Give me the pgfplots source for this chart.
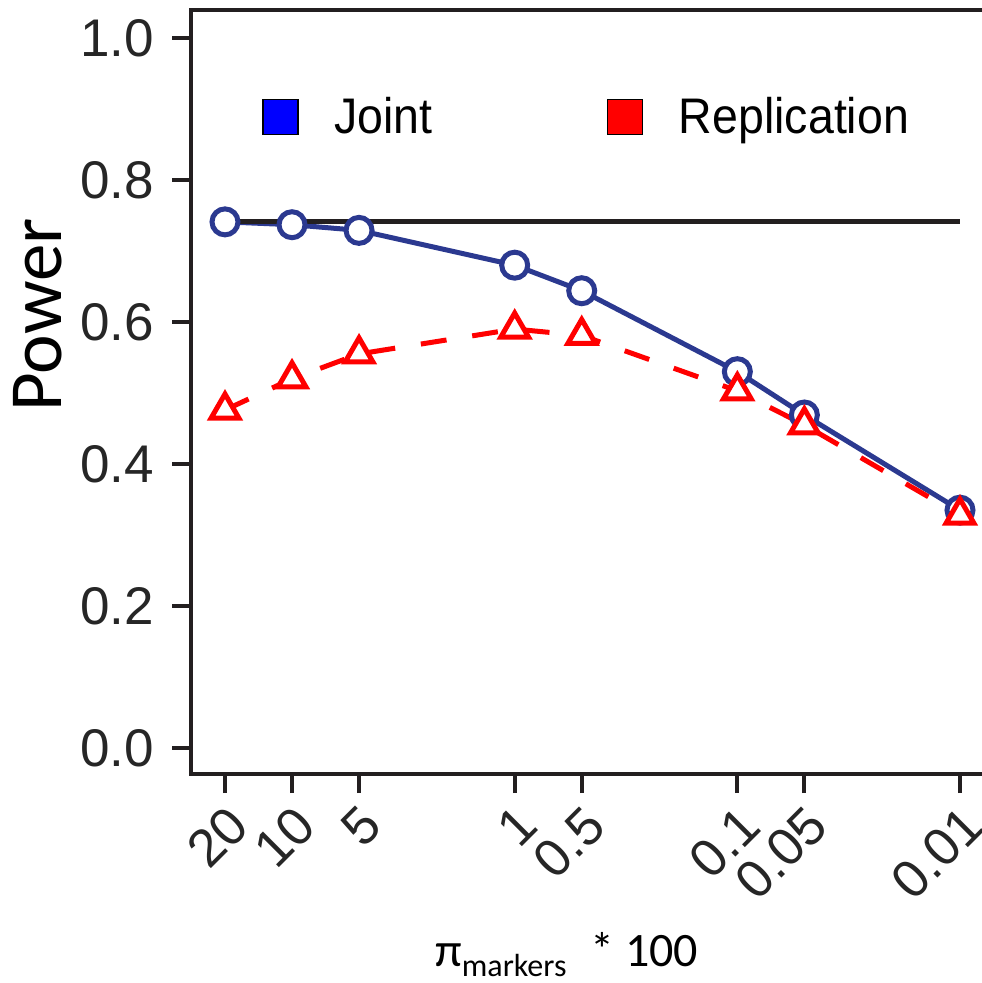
\documentclass[border=0pt]{standalone}
\usepackage{pgfplots}
\pgfplotsset{compat=1.18}
\usepackage{fontspec}
\setmainfont{Liberation Sans}
\newfontfamily\carlito{Carlito}
\newfontfamily\legfont{Liberation Sans}[FakeStretch=0.93]
\definecolor{jointblue}{RGB}{43,57,144}
\definecolor{axisgray}{RGB}{35,31,32}
\begin{document}
\begin{tikzpicture}
\begin{axis}[
  scale only axis, width=401.5pt, height=382pt,
  xmode=log, x dir=reverse, xmin=0.007036, xmax=28.43,
  ymin=-0.0366, ymax=1.0394,
  axis line style={line width=2pt, color=axisgray},
  xtick={20,10,5,1,0.5,0.1,0.05,0.01},
  xticklabels={20,10,5,1,0.5,0.1,0.05,0.01},
  minor xtick={},
  ytick={0,0.2,0.4,0.6,0.8,1.0},
  yticklabels={0.0,0.2,0.4,0.6,0.8,1.0},
  xtick pos=left, ytick pos=left,
  tick align=outside, major tick length=9.5pt,
  tick style={line width=2pt, color=axisgray},
  /pgf/number format/assume math mode=true,
  ticklabel style={font=\fontsize{26.5}{30}\selectfont, color=black!85},
  xticklabel style={rotate=45, anchor=north east},
  yticklabel style={xshift=-5.5pt},
  ylabel={Power},
  ylabel style={font=\carlito\fontsize{37.5}{42}\selectfont, at={(axis description cs:-0.1905,0.601)}, anchor=center},
  xlabel={π\raisebox{-0.2em}{\fontsize{16}{18}\selectfont markers}\hspace{0.5em}* 100},
  xlabel style={font=\carlito\fontsize{24}{28}\selectfont, at={(axis description cs:0.468,-0.252)}, anchor=base},
  legend style={at={(axis description cs:0.0809,0.86)}, anchor=west, draw=none, fill=none,
    font=\legfont\fontsize{25}{28}\selectfont, legend columns=2,
    /tikz/every odd column/.append style={column sep=16pt},
    /tikz/every even column/.append style={column sep=85pt}},
  legend image code/.code={\draw[#1, line width=0.6pt, draw=black] (0pt,-8.75pt) rectangle (17.5pt,8.75pt);},
]
\addlegendimage{fill=blue}
\addlegendentry{Joint}
\addlegendimage{fill=red}
\addlegendentry{Replication}
\addplot[jointblue, line width=2.5pt, mark=*, mark size=6.5pt, mark options={fill=white, draw=jointblue, line width=2.5pt}, forget plot] coordinates {
(20,0.741) (10,0.737) (5,0.729) (1,0.680) (0.5,0.644) (0.1,0.530) (0.05,0.469) (0.01,0.335)};
\addplot[red, line width=2.5pt, dash pattern=on 13pt off 13pt, mark=triangle*, mark size=8pt, mark options={fill=white, draw=red, line width=2.5pt, solid}, forget plot] coordinates {
(20,0.476) (10,0.520) (5,0.555) (1,0.590) (0.5,0.581) (0.1,0.503) (0.05,0.455) (0.01,0.328)};
\addplot[axisgray, line width=2.5pt, forget plot] coordinates {(20,0.742) (0.01,0.742)};
\end{axis}
\pgfresetboundingbox
\path[use as bounding box] ([shift={(-95.5pt,-104.5pt)}]current axis.south west) rectangle ([shift={(395pt,387pt)}]current axis.south west);
\end{tikzpicture}
\end{document}
